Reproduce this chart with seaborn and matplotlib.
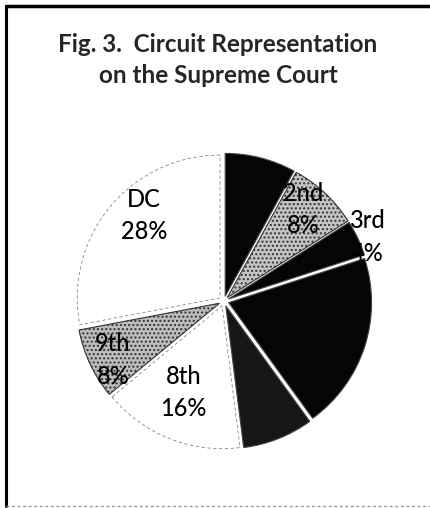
import matplotlib
matplotlib.use("Agg")
import matplotlib.pyplot as plt
import seaborn as sns
import numpy as np
from matplotlib.lines import Line2D

# slices clockwise from 12 o'clock
circuits = ["", "2nd", "3rd", "", "", "8th", "9th", "DC"]
shares = [8, 8, 4, 20, 8, 16, 8, 28]

sns.set_style("white")
plt.rcParams['font.family'] = ['Lato', 'DejaVu Sans']

fills = ["#050505", "#c4c4c4", "#050505", "#050505", "#161616", "#ffffff", "#bdbdbd", "#ffffff"]
hatches = [None, "....", None, None, None, None, "....", None]
# label placement: radius and clockwise angle from 12 o'clock
label_r = [0.8, 0.85, 1.10, 0.7, 0.7, 0.70, 0.88, 0.82]
label_ang = [14, 41, 66, 110, 160, 204, 242, 317]

fig = plt.figure(figsize=(4.31, 5.08), dpi=100)
ax = fig.add_axes([0.1216, 0.0697, 0.796, 0.675])

wedges, _ = ax.pie(shares, startangle=90, counterclock=False,
                   explode=[0.035] * len(shares), colors=fills,
                   wedgeprops=dict(linewidth=0.8, edgecolor="#444444"))
for w, h, c in zip(wedges, hatches, fills):
    if h:
        w.set_hatch(h)
        w.set_edgecolor("#333333")
    if c == "#ffffff":
        w.set_edgecolor("#888888")
        w.set_linestyle((0, (4, 3)))
        w.set_linewidth(0.6)

for name, pct, r, a in zip(circuits, shares, label_r, label_ang):
    if not name:
        continue
    t = np.deg2rad(a)
    ax.text(r * np.sin(t), r * np.cos(t), f"{name}\n{pct}%",
            ha="center", va="center", fontsize=17, linespacing=1.5,
            fontweight="medium", color="black", zorder=5)

ax.set_xlim(-1.2, 1.2)
ax.set_ylim(-1.2, 1.2)
ax.set_aspect("equal")
ax.axis("off")

fig.text(0.506, 0.882, "Fig. 3.  Circuit Representation\non the Supreme Court",
         ha="center", va="center", fontsize=17.5, fontweight="bold",
         linespacing=1.4)

# frame around the chart
W, H = 431, 508
fig.add_artist(Line2D([6 / W, 6 / W], [1 - 6 / H, 2 / H], color="black", lw=2.2,
                      transform=fig.transFigure))
fig.add_artist(Line2D([6 / W, 1], [1 - 6 / H, 1 - 6 / H], color="black", lw=2.5,
                      transform=fig.transFigure))
fig.add_artist(Line2D([6 / W, 1], [2 / H, 2 / H], color="#999999", lw=1,
                      linestyle=(0, (2, 2)), transform=fig.transFigure))

fig.savefig("out.png", dpi=100)
